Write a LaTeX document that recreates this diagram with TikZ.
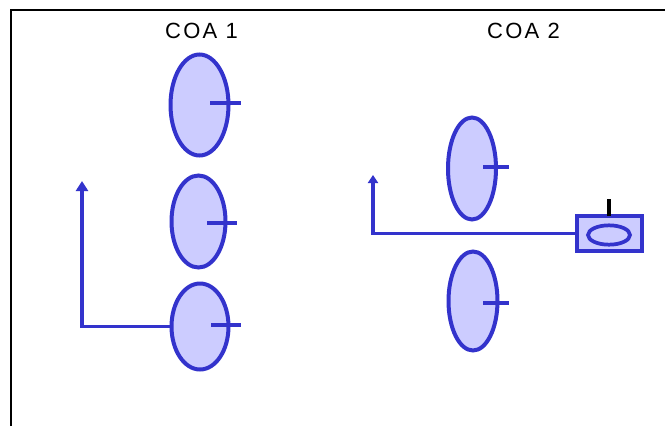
\documentclass[tikz,border=0pt]{standalone}
\usepackage{fontspec}
\setmainfont{Liberation Sans}
\usetikzlibrary{shapes.geometric,arrows.meta}
\definecolor{coastroke}{RGB}{51,51,204}
\definecolor{coafill}{RGB}{204,204,255}
\begin{document}
\begin{tikzpicture}[x=0.75pt,y=-0.75pt,
  frame/.style={line width=1.7pt,black},
  title/.style={anchor=base,inner sep=0pt,font=\fontsize{16.5pt}{19pt}\selectfont\addfontfeatures{LetterSpace=10}},
  unit/.style={ellipse,draw=coastroke,fill=coafill,line width=3pt,inner sep=0pt,outer sep=0pt},
  tick/.style={coastroke,line width=3pt},
  route/.style={coastroke,line width=2.8pt},
  hq/.style={rectangle,draw=coastroke,fill=coafill,line width=3pt,inner sep=0pt,outer sep=0pt,
    minimum width=48.75pt,minimum height=26.5pt}]
  \useasboundingbox (0,0) rectangle (665,426);
  % frame
  \draw[frame] (11,426) -- (11,10) -- (665,10);

  % titles
  \node[title] (t1) at (201.5,38.7) {COA 1};
  \node[title] (t2) at (523.5,38.7) {COA 2};

  % COA 1: three units stacked
  \node[unit,minimum width=43.5pt,minimum height=75.75pt] (e1) at (199.5,105) {};
  \node[unit,minimum width=40.5pt,minimum height=69pt] (e2) at (198.5,221.5) {};
  \node[unit,minimum width=42.75pt,minimum height=64.5pt] (e3) at (200,326.5) {};
  \draw[tick] (210,103) -- (241,103);
  \draw[tick] (207,222.5) -- (237,222.5);
  \draw[tick] (211,324.7) -- (241,324.7);
  \coordinate (a1) at (82,181);
  \draw[route,line width=2.4pt,-{Triangle[width=9pt,length=7.5pt]}] (e3.west) -| (a1);

  % COA 2: two units and the headquarters
  \node[unit,minimum width=36pt,minimum height=76.5pt] (e4) at (472,168.5) {};
  \node[unit,minimum width=36.75pt,minimum height=74.25pt] (e5) at (473,301) {};
  \draw[tick] (483,166.7) -- (509,166.7);
  \draw[tick] (483,302.7) -- (509,302.7);
  \node[hq] (hq) at (609,233.5) {};
  \node[unit,line width=2.8pt,minimum width=31.5pt,minimum height=14.5pt] (hqe) at (609,235) {};
  \draw[black,line width=2.8pt] (hq.north) -- ++(0,-17);
  \coordinate (a2) at (373,175);
  \draw[route,-{Triangle[width=7.5pt,length=6pt]}] (hq.west) -| (a2);
\end{tikzpicture}
\end{document}
